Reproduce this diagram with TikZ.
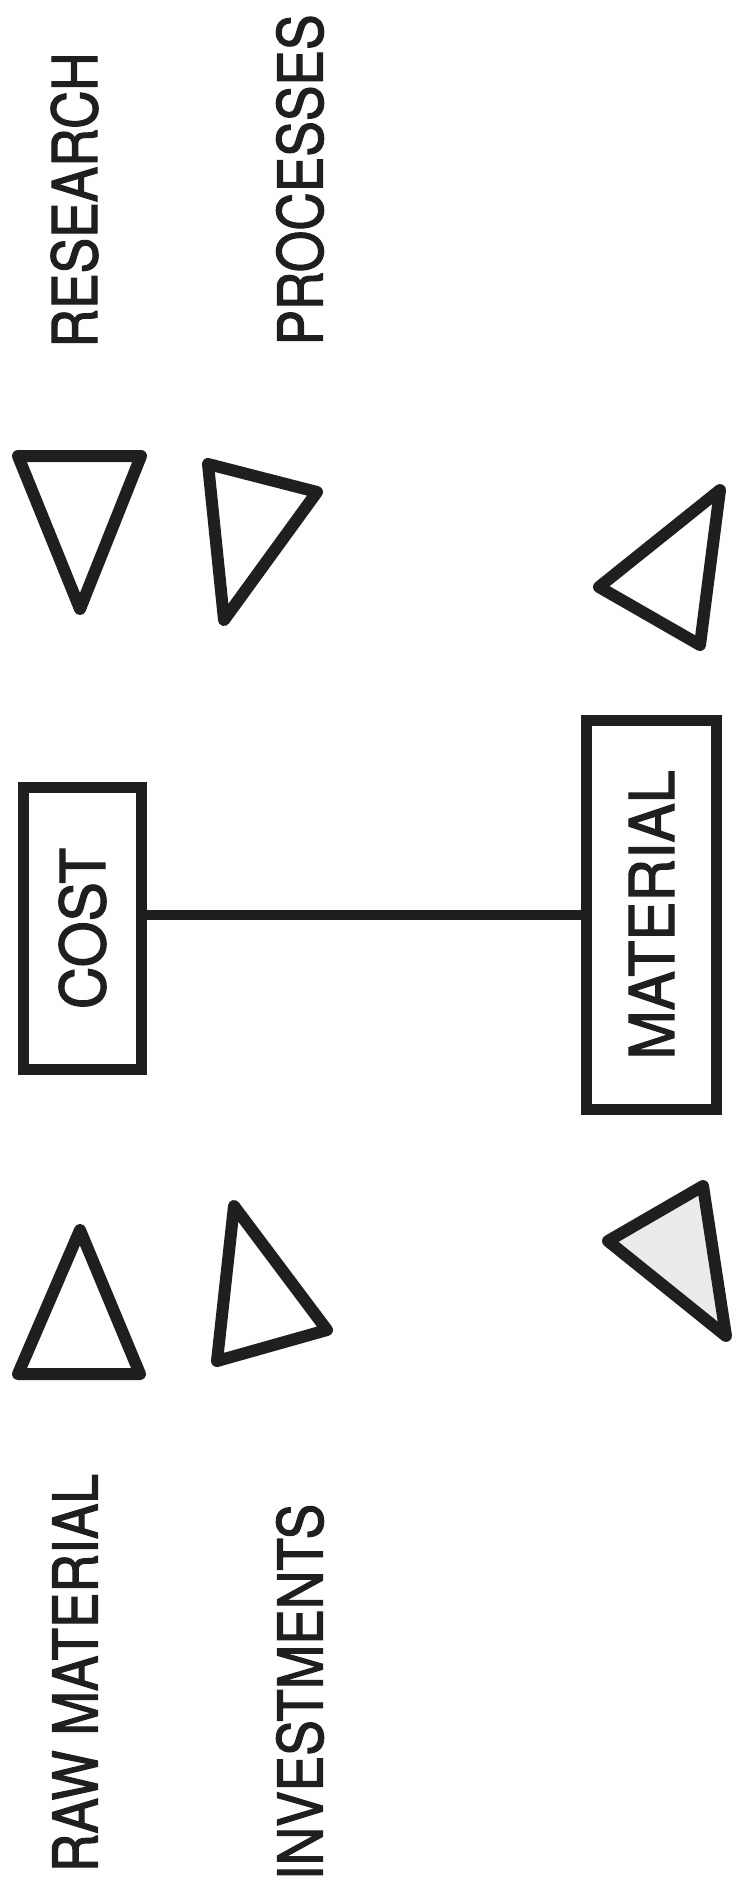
\documentclass[tikz,border=0pt]{standalone}
\usepackage{fontspec}
\setmainfont{TeX Gyre Heros}[FakeBold=2]
\usetikzlibrary{positioning}
\tikzset{
  lbl/.style={rotate=90,inner sep=0pt,text=black!88,font=\fontsize{62}{62}\selectfont},
  box/.style={draw=black!88,line width=11pt,inner sep=0pt,text=black!88,font=\fontsize{62}{62}\selectfont},
  tri/.style={draw=black!88,line width=12pt,line join=round},
  link/.style={line width=10pt,black!88},
}
\newcommand{\sq}[2]{\scalebox{#1}[1]{#2}}

\begin{document}
\begin{tikzpicture}[x=1pt,y=-1pt]
  \useasboundingbox (0,0) rectangle (737,1894);
  \node[lbl](research) at (74.5,200){\sq{0.86}{RESEARCH}};
  \node[lbl](processes) at (300,180){\sq{0.86}{PROCESSES}};
  \node[lbl](rawmat) at (75,1673){\sq{0.86}{RAW MATERIAL}};
  \node[lbl](invest) at (300,1692){\sq{0.86}{INVESTMENTS}};
  \node[box,minimum width=118,minimum height=282](cost) at (82.5,928.5){\rotatebox{90}{\sq{0.95}{COST}}};
  \node[box,minimum width=130,minimum height=389](material) at (651.5,915){\rotatebox{90}{\sq{0.95}{MATERIAL}}};
  \draw[link] (cost.east |- material.west) -- (material.west);
  \draw[tri] (18,456) -- (141,456) -- (80,609) -- cycle;
  \draw[tri] (208,464) -- (317,492) -- (224,620) -- cycle;
  \draw[tri] (720,490) -- (599,587) -- (700,645) -- cycle;
  \draw[tri] (80,1230) -- (140,1374) -- (18,1374) -- cycle;
  \draw[tri] (234,1206) -- (327,1330) -- (217,1361) -- cycle;
  \draw[tri,fill=black!8] (703,1186) -- (608,1241) -- (726,1336) -- cycle;
\end{tikzpicture}
\end{document}
